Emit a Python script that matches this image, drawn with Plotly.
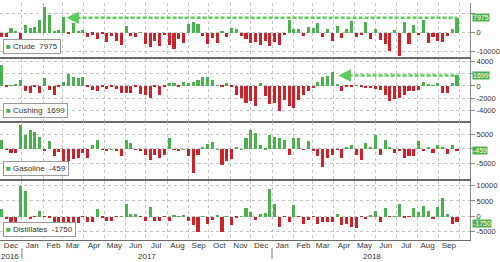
import plotly.graph_objects as go
import pandas as pd

# ---------------- data (thousand barrels, weekly changes) ----------------
week_start = "2016-12-02"
n_weeks = 96

crude = [-2389, -2563, 2256, 614, -7051, 4097, 2347, 2840, 6466, 13830,
         9527, 564, 1501, 8209, -237, 4954, 867, 1566, -2166, -1034,
         -3641, -930, -5247, -1753, -4432, -6425, 3295, -1661, -2451, 118,
         -6299, -7564, -4727, -7208, -1527, -6451, -8945, -3327, -5392, 4580,
         5888, 4591, -1846, -6023, -2747, -5731, 856, -2438, 2237, 1854,
         -1855, -3429, -5610, -5117, -6495, -4609, -7419, -4948, -6861, -1071,
         6776, 1895, 1840, -1616, 3019, 2408, 5022, -2622, 1643, -4617,
         3306, -2670, 2170, 6217, -2197, -1404, 5778, -3620, 2072, -4143,
         -5914, -9891, 1245, -12633, 5836, -6147, 3805, -1352, 6805, -5836,
         -2566, -4302, -5296, -2057, 1852, 7975]

cushing = [3300, -100, 100, 300, 900, -900, -1200, -200, -1200, 1200,
           -700, -1500, -100, 600, 1900, 1400, 1300, 1400, -100, -700,
           -800, -200, -500, -100, -500, -1200, -1200, -1200, -100, -1400,
           -1500, -1900, -200, -1500, -100, 400, 500, -100, 600, 500,
           600, 900, 1400, 1400, 900, 100, -100, 500, -100, -1500,
           -2000, -2800, -2400, -3300, 500, -1700, -3000, -2800, -4000, -2300,
           -3300, -3600, -2300, -1500, -900, -400, 600, 1400, 1500, 2200,
           300, -900, -100, -200, 100, -100, -400, -400, -500, -700,
           -1500, -2500, -2100, -1900, -1500, -900, -900, -700, 600, 300,
           100, 500, -1200, -1200, 500, 1699]

gasoline = [3300, -100, -1300, -1300, 8500, 5100, 6800, 6200, 4500, -300,
            2800, -2400, -900, -6400, -3900, -3200, -3000, -1300, -3000, 1600,
            3300, -100, -200, 100, -400, -2400, 3300, 2200, -100, -400,
            -1800, -3600, -1800, -2800, -1800, 3900, -100, -700, 100, -2400,
            -8200, -1800, 1000, 1800, 2500, 100, -5300, -4100, -3200, 700,
            100, 3900, 6800, 5600, 1400, 300, 5100, 4500, 3900, 3300,
            -1800, 3900, 3900, -100, 2800, -300, -2400, -6200, -3000, -1800,
            -100, -2800, 1000, 1400, -1800, -3600, 2200, 1000, 5100, -1800,
            3300, 1000, -1300, -700, -2800, -2400, -2400, 3000, -500, 1000,
            -1300, 1600, 1000, -1500, 1500, -459]

distillates = [2500, -800, -1800, -1800, 10000, 8400, -800, -100, 1700, -100,
               -300, -1800, -1800, -1800, -1800, -1800, -2200, -100, -1800, -1800,
               2500, -400, -1300, -1500, -100, 100, 4100, 900, 900, -100,
               -1500, 3000, -1300, -1500, -100, -1500, 300, 100, 300, -1300,
               -2900, -5100, 100, -2400, -1100, 200, -5100, 100, -2900, -400,
               100, 2800, 1600, -1100, 900, 1100, 8900, 4100, -3400, -100,
               -1800, 3900, -100, -2400, -1100, -100, -2400, -1800, -1800, -1800,
               800, -2900, -2400, -3400, -3700, -100, -800, 300, 1900, -1800,
               2800, -100, 100, 4100, -400, -100, 2800, 1400, 3500, 1900,
               -800, 3000, 6200, 900, -2400, -1750]

series_names = ["Crude", "Cushing", "Gasoline", "Distillates"]
series_values = [crude, cushing, gasoline, distillates]

month_labels = ["Dec", "Jan", "Feb", "Mar", "Apr", "May", "Jun", "Jul", "Aug", "Sep",
                "Oct", "Nov", "Dec", "Jan", "Feb", "Mar", "Apr", "May", "Jun", "Jul",
                "Aug", "Sep"]
month_mid_dates = pd.date_range("2016-12-01", periods=len(month_labels), freq="MS") + pd.Timedelta(days=15)
year_labels = ["2016", "2017", "2018"]
year_positions = ["2016-12-15", "2017-07-02", "2018-05-27"]
year_breaks = ["2017-01-01", "2018-01-01"]

# --------------- style -----------------
GREEN = "#4cb04f"
RED = "#cc2229"
DASH_GREEN = "#5ccc5c"
GRID = "#c4c4c4"
FONT = "Liberation Sans, Arial, sans-serif"

dates = pd.date_range(week_start, periods=n_weeks, freq="7D")
x_range = ["2016-11-30", "2018-10-17"]

domains = [[0.771, 1.0], [0.504, 0.7625], [0.258, 0.5], [0.0, 0.25]]
y_ranges = [[-13200, 15800], [-5560, 4290], [-10400, 9550], [-7740, 11600]]
tick_sets = [
    ([10000, 0, -10000], ["", "0", "-10000"]),
    ([4000, 2000, 0, -2000, -4000], ["4000", "", "0", "-2000", "-4000"]),
    ([5000, 0, -5000], ["5000", "", "-5000"]),
    ([10000, 5000, 0, -5000], ["10000", "5000", "0", "-5000"]),
]
flag_shift = [0, 0, 0, -2]

fig = go.Figure()
layout = dict(
    width=500, height=262,
    margin=dict(l=0, r=30, t=0, b=22),
    paper_bgcolor="white", plot_bgcolor="white",
    showlegend=False,
    font=dict(family=FONT, size=8, color="#333"),
    bargap=0,
)

annotations = []
shapes = []

for k, (name, vals) in enumerate(zip(series_names, series_values)):
    idx = k + 1
    xa = "x" if idx == 1 else f"x{idx}"
    ya = "y" if idx == 1 else f"y{idx}"
    colors = [GREEN if v >= 0 else RED for v in vals]
    fig.add_trace(go.Bar(x=dates, y=vals, marker=dict(color=colors, line=dict(width=0)),
                         width=4.5 * 86400000, xaxis=xa, yaxis=ya))
    xkey = "xaxis" if idx == 1 else f"xaxis{idx}"
    ykey = "yaxis" if idx == 1 else f"yaxis{idx}"
    layout[xkey] = dict(
        anchor=ya, range=x_range, type="date",
        matches=None if idx == 1 else "x",
        tickmode="array", tickvals=list(month_mid_dates), ticktext=month_labels,
        showticklabels=(idx == 4), ticks="", showgrid=False,
        ticklabelstandoff=-3,
        tickfont=dict(size=8, color="#333"),
        showline=True, linecolor="#6a6a6a", linewidth=2 if idx < 4 else 1,
        minor=dict(tickmode="linear", tick0="2016-12-01", dtick="M1", showgrid=True,
                   gridcolor=GRID, griddash="dot", gridwidth=1, ticks=""),
        zeroline=False,
    )
    tv, tt = tick_sets[k]
    layout[ykey] = dict(
        domain=domains[k], anchor=xa, side="right", range=y_ranges[k],
        tickmode="array", tickvals=tv, ticktext=tt,
        showgrid=True, gridcolor=GRID, griddash="dot", gridwidth=1,
        zeroline=False, showline=True, linecolor="#8a8a8a", linewidth=1,
        ticks="outside", ticklen=4, tickcolor="#8a8a8a",
        tickfont=dict(size=7.5, color="#333"),
    )
    last = vals[-1]
    # legend box
    annotations.append(dict(
        xref="paper", x=0.006, yref=f"{ya} domain", y=0, yshift=3,
        xanchor="left", yanchor="bottom", showarrow=False,
        text=f"<span style='color:{GREEN}'>■</span> {name}  {last}",
        font=dict(size=8, color="#333"), bgcolor="white",
        bordercolor="#9a9a9a", borderwidth=1, borderpad=2,
    ))
    # value flag on right axis
    annotations.append(dict(
        xref="paper", x=1, xanchor="left", xshift=2, yref=ya, y=last,
        yanchor="middle", yshift=flag_shift[k], showarrow=False, text=str(last),
        font=dict(size=7, color="white"), bgcolor=GREEN, borderpad=0,
    ))

# "largest since" dashed markers
shapes.append(dict(type="line", xref="x", yref="y", x0="2017-03-13", x1=str(dates[-1].date()),
                   y0=crude[-1], y1=crude[-1], line=dict(color=DASH_GREEN, width=2.5, dash="4px,2px")))
annotations.append(dict(xref="x", yref="y", x="2017-03-07", y=crude[-1], ax=14, ay=0,
                        showarrow=True, arrowhead=2, arrowsize=1, arrowwidth=2.5,
                        arrowcolor=DASH_GREEN, text=""))
shapes.append(dict(type="line", xref="x2", yref="y2", x0="2018-04-14", x1=str(dates[-1].date()),
                   y0=cushing[-1], y1=cushing[-1], line=dict(color=DASH_GREEN, width=2.5, dash="4px,2px")))
annotations.append(dict(xref="x2", yref="y2", x="2018-04-08", y=cushing[-1], ax=14, ay=0,
                        showarrow=True, arrowhead=2, arrowsize=1, arrowwidth=2.5,
                        arrowcolor=DASH_GREEN, text=""))

# year labels
for lab, pos in zip(year_labels, year_positions):
    annotations.append(dict(xref="x4", x=pos, yref="paper", y=0, yshift=-16,
                            xanchor="center", yanchor="middle", showarrow=False,
                            text=lab, font=dict(size=8, color="#333")))
for b in year_breaks:
    shapes.append(dict(type="line", xref="x4", yref="paper", x0=b, x1=b, y0=-0.035, y1=-0.08,
                       line=dict(color="#777", width=1)))

layout["annotations"] = annotations
layout["shapes"] = shapes
fig.update_layout(**layout)
fig.write_html("out.html")
